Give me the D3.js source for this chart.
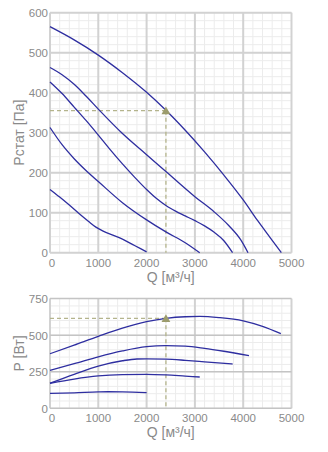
<!DOCTYPE html>
<html>
<head>
<meta charset="utf-8">
<script src="https://cdn.jsdelivr.net/npm/d3@7"></script>
<style>
  html, body { margin: 0; padding: 0; background: #fff; }
  svg { display: block; font-family: "Liberation Sans", Arial, sans-serif; }
</style>
</head>
<body>
<svg id="chart" width="328" height="452"></svg>
<script>
// Fan curves: static pressure and power consumption vs. air flow
const qTicks = [0, 1000, 2000, 3000, 4000, 5000];
const pTicks = [0, 100, 200, 300, 400, 500, 600];
const wTicks = [0, 250, 500, 750];

// Static pressure curves [Q m³/h, Pa]
const pressure1 = [[0,565],[500,532],[1000,494],[1500,450],[2000,401],[2400,356],[2800,306],[3200,252],[3600,194],[4000,132],[4300,80],[4550,39],[4790,0]];
const pressure2 = [[0,463],[250,445],[500,421],[750,391],[1000,359],[1500,298],[2000,245],[2400,203],[3000,140],[3400,102],[3700,68],[3950,32],[4100,0]];
const pressure3 = [[0,427],[250,398],[500,364],[750,330],[1000,294],[1250,257],[1500,222],[1750,189],[2000,158],[2200,136],[2400,118],[2600,104],[2800,92],[3000,80],[3200,67],[3400,51],[3600,30],[3780,0]];
const pressure4 = [[0,313],[250,270],[500,235],[750,205],[1000,178],[1500,125],[2000,82],[2400,52],[2800,25],[3100,0]];
const pressure5 = [[0,158],[200,139],[400,119],[600,98],[800,78],[950,64],[1100,54],[1300,44],[1500,34],[1750,18],[2000,2]];

// Power curves [Q m³/h, W]
const power1 = [[0,373],[500,432],[1000,492],[1500,548],[2000,592],[2400,615],[2800,626],[3100,628],[3500,620],[4000,598],[4400,560],[4780,510]];
const power2 = [[0,260],[500,305],[1000,352],[1500,392],[2000,421],[2400,428],[2800,425],[3200,410],[3600,390],[4120,360]];
const power3 = [[0,171],[500,232],[1000,289],[1500,325],[1800,337],[2000,338],[2400,336],[2800,328],[3200,318],[3780,303]];
const power4 = [[0,171],[500,200],[1000,221],[1500,230],[2000,232],[2400,228],[2800,220],[3100,214]];
const power5 = [[0,102],[500,106],[1000,112],[1200,113],[1500,112],[2000,107]];

// Operating point
const opQ = 2400, opP = 355, opW = 615;

const pressureCurves = [pressure1, pressure2, pressure3, pressure4, pressure5];
const powerCurves = [power1, power2, power3, power4, power5];

const svg = d3.select("#chart");
const curveColor = "#2e2ea0";
const guideColor = "#b4b48c";
const markerColor = "#9c9c6c";
const textColor = "#8a8a8a";

function panel(opts) {
  const x = d3.scaleLinear().domain([0, 5000]).range([opts.left, opts.right]);
  const y = d3.scaleLinear().domain([0, opts.yMax]).range([opts.bottom, opts.top]);
  const g = svg.append("g");

  // minor grid
  const xMinor = d3.range(0, 5001, 200);
  const yMinor = d3.range(0, opts.yMax + 0.1, opts.yMinor);
  g.selectAll(".vminor").data(xMinor).join("line")
    .attr("x1", d => x(d)).attr("x2", d => x(d))
    .attr("y1", y(0)).attr("y2", y(opts.yMax))
    .attr("stroke", "#ececec").attr("stroke-width", 1);
  g.selectAll(".hminor").data(yMinor).join("line")
    .attr("x1", x(0)).attr("x2", x(5000))
    .attr("y1", d => y(d)).attr("y2", d => y(d))
    .attr("stroke", "#ececec").attr("stroke-width", 1);

  // major grid
  g.selectAll(".vmajor").data(qTicks).join("line")
    .attr("x1", d => x(d)).attr("x2", d => x(d))
    .attr("y1", y(0)).attr("y2", y(opts.yMax))
    .attr("stroke", "#d2d2d2").attr("stroke-width", 2);
  g.selectAll(".hmajor").data(opts.yTicks).join("line")
    .attr("x1", x(0)).attr("x2", x(5000))
    .attr("y1", d => y(d)).attr("y2", d => y(d))
    .attr("stroke", opts.hColor).attr("stroke-width", opts.hWidth);

  // guides to the operating point
  const gp = opts.opValue;
  g.append("line")
    .attr("x1", x(0)).attr("x2", x(opQ)).attr("y1", y(gp)).attr("y2", y(gp))
    .attr("stroke", guideColor).attr("stroke-width", 1.3).attr("stroke-dasharray", "4,3");
  g.append("line")
    .attr("x1", x(opQ)).attr("x2", x(opQ)).attr("y1", y(gp)).attr("y2", y(0))
    .attr("stroke", guideColor).attr("stroke-width", 1.3).attr("stroke-dasharray", "4,3");

  // curves
  const line = d3.line().x(d => x(d[0])).y(d => y(d[1])).curve(d3.curveMonotoneX);
  g.selectAll(".curve").data(opts.curves).join("path")
    .attr("d", line)
    .attr("fill", "none").attr("stroke", curveColor).attr("stroke-width", 1.3);

  // operating point marker
  g.append("path")
    .attr("d", d3.symbol(d3.symbolTriangle, 34)())
    .attr("transform", `translate(${x(opQ)},${y(gp) + 1})`)
    .attr("fill", markerColor);

  // tick labels
  g.selectAll(".xt").data(qTicks).join("text")
    .attr("x", d => x(d) + (d === 0 ? 2 : 0)).attr("y", y(0) + 14)
    .attr("text-anchor", "middle").attr("font-size", 11.5).attr("fill", textColor)
    .text(d => d);
  g.selectAll(".yt").data(opts.yTicks).join("text")
    .attr("x", x(0) - 2).attr("y", d => y(d) + 4.5)
    .attr("text-anchor", "end").attr("font-size", 11.5).attr("fill", textColor)
    .text(d => d);

  // axis titles
  g.append("text")
    .attr("x", (x(0) + x(5000)) / 2).attr("y", y(0) + 29)
    .attr("text-anchor", "middle").attr("font-size", 14).attr("fill", textColor)
    .text("Q [м³/ч]");
  g.append("text")
    .attr("transform", `translate(${opts.left - 26},${(opts.top + opts.bottom) / 2}) rotate(-90)`)
    .attr("text-anchor", "middle").attr("font-size", 14).attr("fill", textColor)
    .text(opts.yTitle);
}

panel({
  left: 50, right: 291.5, top: 12.7, bottom: 252.7,
  yMax: 600, yTicks: pTicks, yMinor: 20,
  hColor: "#d2d2d2", hWidth: 2,
  curves: pressureCurves, opValue: opP, yTitle: "Pстат [Па]"
});

panel({
  left: 50, right: 291.5, top: 298.6, bottom: 408.3,
  yMax: 750, yTicks: wTicks, yMinor: 50,
  hColor: "#c4c4c4", hWidth: 1.5,
  curves: powerCurves, opValue: opW, yTitle: "P [Вт]"
});
</script>
</body>
</html>
